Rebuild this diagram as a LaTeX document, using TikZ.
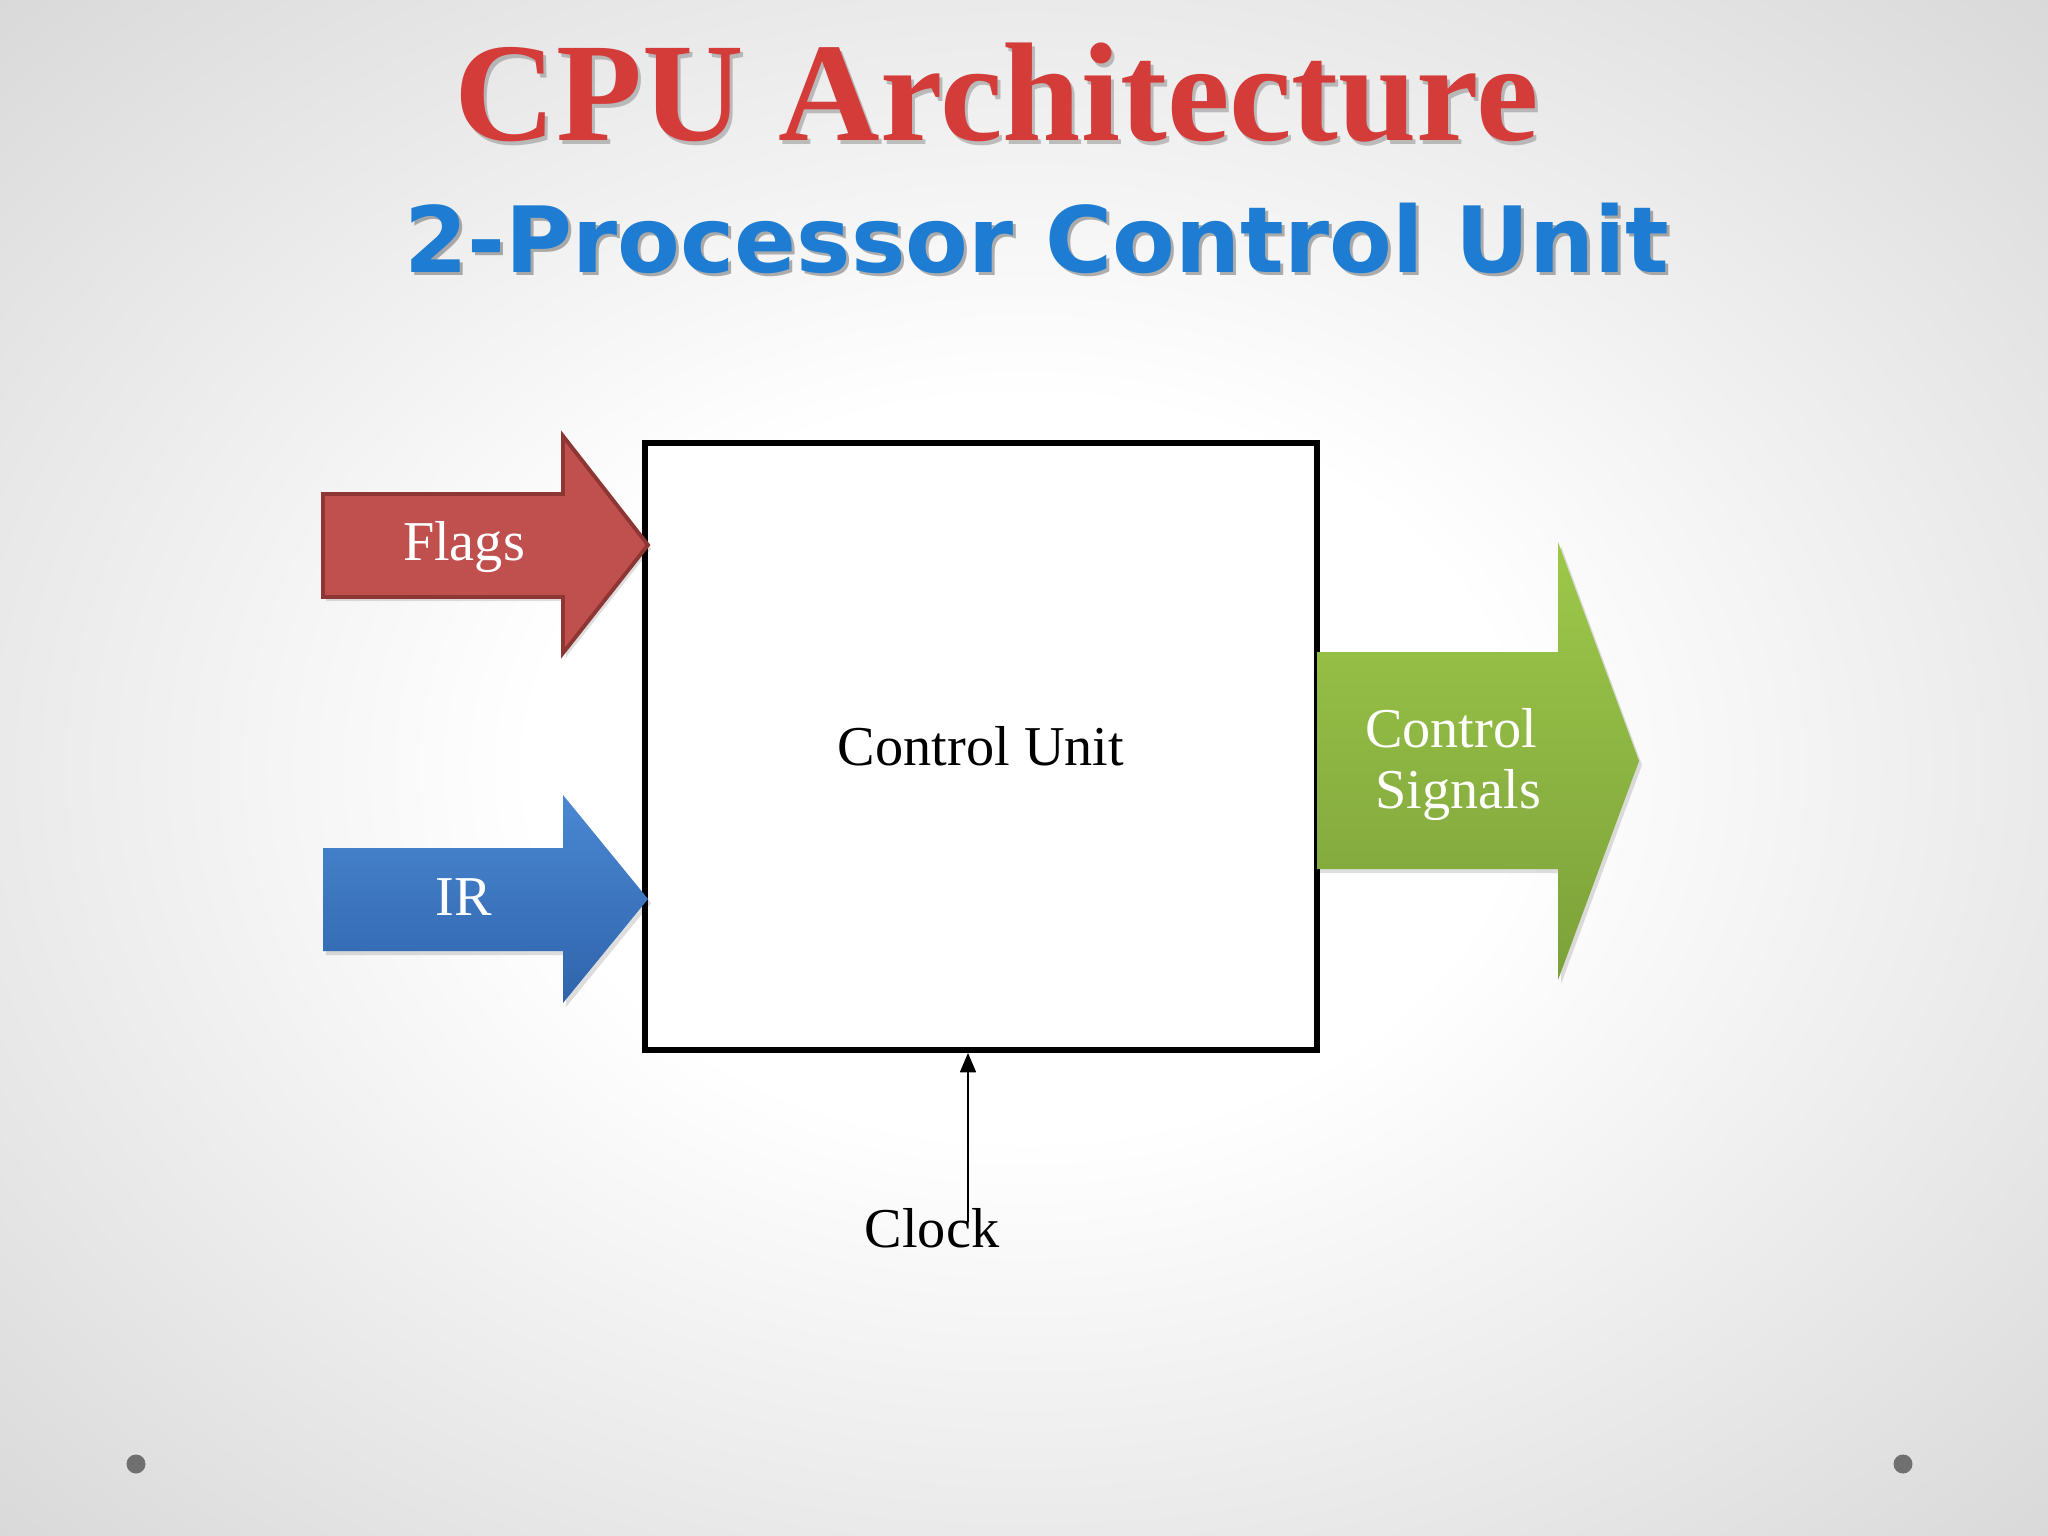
\documentclass[tikz,border=0pt]{standalone}
\usepackage{fontspec}
\setmainfont{Liberation Serif}
\newfontfamily\subfont{DejaVu Sans}
\usetikzlibrary{arrows.meta}
\definecolor{bgedge}{HTML}{D8D8D8}
\definecolor{titlered}{HTML}{D43C3A}
\definecolor{subblue}{HTML}{1E7DD2}
\definecolor{flagfill}{HTML}{C0504D}
\definecolor{flagdraw}{HTML}{8E3634}
\definecolor{irtop}{HTML}{4A88D2}
\definecolor{irbot}{HTML}{2F64AC}
\definecolor{grtop}{HTML}{9DC84A}
\definecolor{grbot}{HTML}{7CA13A}
\definecolor{dotgray}{HTML}{707070}
\pgfdeclareradialshading{bgshade}{\pgfpoint{0bp}{0bp}}{color(0bp)=(white); color(12bp)=(white); color(36bp)=(bgedge); color(50bp)=(bgedge)}
\tikzset{
  bodytext/.style={font=\fontsize{16}{17}\selectfont, inner sep=0pt},
  whitetext/.style={bodytext, text=white},
  cubox/.style={draw=black, line width=1.55pt, fill=white, inner sep=0pt, minimum width=6.72cm, minimum height=6.07cm},
  shadowpath/.style={fill=black, opacity=0.13},
}
\begin{document}
\begin{tikzpicture}[x=0.01cm,y=-0.01cm]
\useasboundingbox (0,0) rectangle (2048,1536);
\shade[shading=bgshade] (0,0) rectangle (2048,1536);
% titles
\node[anchor=base, text=black, opacity=0.22, font=\fontsize{40}{48}\selectfont\bfseries] at (1000,144) {CPU Architecture};
\node (title) [anchor=base, text=titlered, font=\fontsize{40}{48}\selectfont\bfseries] at (997,140) {CPU Architecture};
\node[anchor=base, text=black, opacity=0.3, font=\subfont\fontsize{26}{30}\selectfont\bfseries] at (1040,275) {2-Processor Control Unit};
\node (subtitle) [anchor=base, text=subblue, font=\subfont\fontsize{26}{30}\selectfont\bfseries] at (1037,272) {2-Processor Control Unit};
% control unit box
\node (cu) [cubox] at (981,746.5) {};
\node (cutext) [bodytext, anchor=base] at (981,765) {Control Unit};
% flags arrow
\fill[shadowpath] (326,498) -- (566,498) -- (566,440) -- (651,549) -- (566,657) -- (566,601) -- (326,601) -- cycle;
\draw[fill=flagfill, draw=flagdraw, line width=1.1pt, line join=miter] (323,494) -- (563,494) -- (563,436) -- (648,545) -- (563,653) -- (563,597) -- (323,597) -- cycle;
\node (flags) [whitetext, anchor=base] at (464,560) {Flags};
% IR arrow
\fill[shadowpath] (326,852) -- (566,852) -- (566,799) -- (651,903) -- (566,1007) -- (566,955) -- (326,955) -- cycle;
\shade[top color=irtop, bottom color=irbot] (323,848) -- (563,848) -- (563,795) -- (648,899) -- (563,1003) -- (563,951) -- (323,951) -- cycle;
\node (ir) [whitetext, anchor=base] at (464,915) {IR};
% control signals arrow
\fill[shadowpath] (1319,656) -- (1561,656) -- (1561,546) -- (1642,765) -- (1561,984) -- (1561,873) -- (1319,873) -- cycle;
\shade[top color=grtop, bottom color=grbot] (1317,652) -- (1558,652) -- (1558,542) -- (1639,761) -- (1558,980) -- (1558,869) -- (1317,869) -- cycle;
\node (sig) [whitetext, anchor=base, align=center, font=\fontsize{16}{17.1}\selectfont] at (1451,808) {Control\\[0pt] \hspace*{0.25em}Signals};
% clock
\node (clock) [bodytext, anchor=base] at (932,1247) {Clock};
\coordinate (clkin) at (968,1222);
\draw[line width=0.6pt, -{Triangle[length=5.5pt, width=4.5pt]}] (clkin) -- (clkin |- cu.south);
% slide dots
\fill[dotgray] (136,1464) circle (9.5);
\fill[dotgray] (1903,1464) circle (9.5);
\end{tikzpicture}
\end{document}
